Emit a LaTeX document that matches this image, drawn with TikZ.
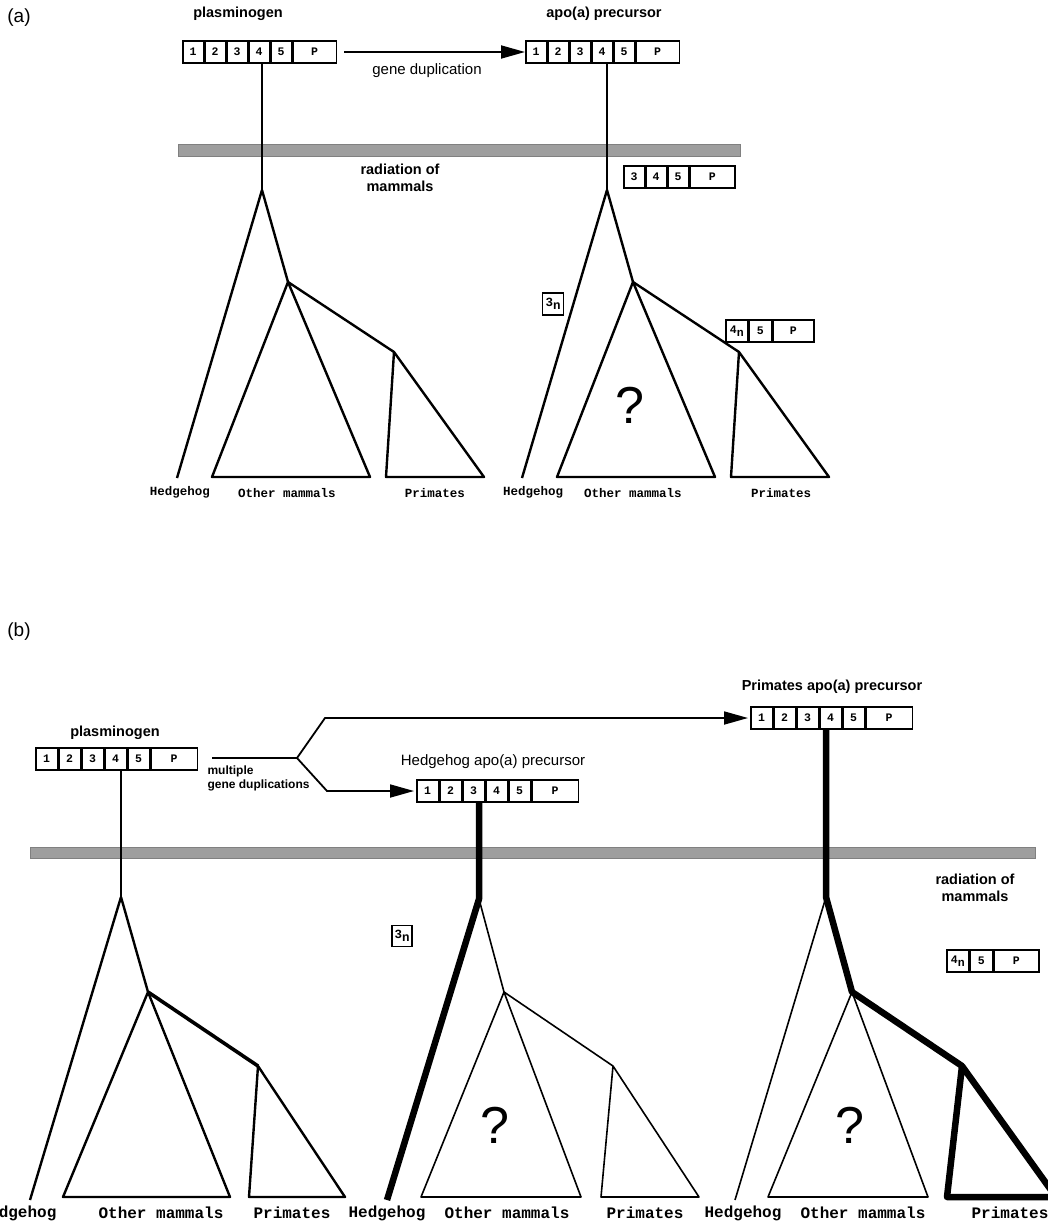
\documentclass[tikz,border=0pt]{standalone}
\usepackage{fontspec}
\setmainfont{Liberation Sans}
\newfontfamily\monof{Liberation Mono}
\usetikzlibrary{arrows.meta}
\newcommand\genebox[4]{%
\node[cell,minimum width=#3] (#1-1) at (#2) {1};
\node[cell,minimum width=#3] (#1-2) at (#1-1.east) {2};
\node[cell,minimum width=#3] (#1-3) at (#1-2.east) {3};
\node[cell,minimum width=#3] (#1-4) at (#1-3.east) {4};
\node[cell,minimum width=#3] (#1-5) at (#1-4.east) {5};
\node[cell,minimum width=#4] (#1-P) at (#1-5.east) {P};}
\newcommand\subn{\raisebox{-3pt}{n}}
\tikzset{
 cell/.style={draw, line width=1.5pt, anchor=west, minimum height=22pt, inner sep=0pt, font=\monof\bfseries\fontsize{11.5}{12}\selectfont},
 lab/.style={font=\bfseries\fontsize{14.5}{17}\selectfont, align=center},
 labr/.style={font=\fontsize{15}{17}\selectfont, align=center},
 sp/.style={font=\monof\bfseries\fontsize{12.5}{12.5}\selectfont},
 spb/.style={font=\monof\bfseries\fontsize{16}{16}\selectfont},
 br/.style={line width=2.4pt, line join=round},
 vl/.style={line width=2.2pt},
 thn/.style={line width=1.6pt, line join=round},
 thk/.style={line width=6.5pt, line join=round},
 arr/.style={line width=1.8pt, -{Triangle[length=24pt,width=13pt]}},
 bar/.style={fill=black!38, draw=black!50, line width=0.6pt},
 qm/.style={font=\fontsize{52}{52}\selectfont},
 panel/.style={font=\fontsize{19}{19}\selectfont},
}
\begin{document}
\begin{tikzpicture}[x=1pt,y=-1pt]
\useasboundingbox[fill=white] (0,0) rectangle (1048,1221);
% ================= panel (a)
\node[panel] (pa) at (19,18) {(a)};
\node[lab] (plabA) at (238,14) {plasminogen};
\node[lab] (alabA) at (604,14) {apo(a) precursor};
\genebox{PA}{182,52}{20.5pt}{43.5pt}
\genebox{AA}{525,52}{20.5pt}{43.5pt}
\draw[arr] ([xshift=7pt]PA-P.east) -- (AA-1.west);
\node[labr] (gdup) at (427,71) {gene duplication};
\node[bar, minimum width=562pt, minimum height=12pt, inner sep=0, anchor=north west] (barA) at (178,144) {};
\node[lab] (radA) at (400,178) {radiation of\\mammals};
% box 3 4 5 P
\node[cell,minimum width=20.5pt] (R-3) at (623,177) {3};
\node[cell,minimum width=20.5pt] (R-4) at (R-3.east) {4};
\node[cell,minimum width=20.5pt] (R-5) at (R-4.east) {5};
\node[cell,minimum width=45pt] (R-P) at (R-5.east) {P};
% tree a1
\coordinate (a1t) at (262,190);
\coordinate (a1h) at (177,478);
\coordinate (a1n) at (288,282);
\coordinate (a1ol) at (212,477);
\coordinate (a1or) at (370,477);
\coordinate (a1p) at (394,352);
\coordinate (a1pl) at (386,477);
\coordinate (a1pr) at (484,477);
\draw[vl] (a1t |- PA-4.south) -- (a1t);
\draw[br] (a1h) -- (a1t) -- (a1n) -- (a1p);
\draw[br] (a1ol) -- (a1n) -- (a1or) -- cycle;
\draw[br] (a1pl) -- (a1p) -- (a1pr) -- cycle;
% tree a2
\coordinate (a2t) at (607,190);
\coordinate (a2h) at (522,478);
\coordinate (a2n) at (633,282);
\coordinate (a2ol) at (557,477);
\coordinate (a2or) at (715,477);
\coordinate (a2p) at (739,352);
\coordinate (a2pl) at (731,477);
\coordinate (a2pr) at (829,477);
\draw[vl] (a2t |- AA-4.south) -- (a2t);
\draw[br] (a2h) -- (a2t) -- (a2n) -- (a2p);
\draw[br] (a2ol) -- (a2n) -- (a2or) -- cycle;
\draw[br] (a2pl) -- (a2p) -- (a2pr) -- cycle;
\node[draw, line width=1.5pt, minimum width=21pt, minimum height=22pt, inner sep=0pt, sp] (a3n) at (553,304) {3\subn};
\node[cell,minimum width=22pt] (F-4) at (725,331) {4\subn};
\node[cell,minimum width=22pt] (F-5) at (F-4.east) {5};
\node[cell,minimum width=41pt] (F-P) at (F-5.east) {P};
\node[qm] (qa) at (630,405) {?};
% labels a
\node[sp] (la1) at (180,492) {Hedgehog};
\node[sp] (la2) at (287,493) {Other mammals};
\node[sp] (la3) at (435,493) {Primates};
\node[sp] (la4) at (533,492) {Hedgehog};
\node[sp] (la5) at (633,493) {Other mammals};
\node[sp] (la6) at (781,493) {Primates};
% ================= panel (b)
\node[panel] (pb) at (19,632) {(b)};
\node[lab] (plabB) at (115,733) {plasminogen};
\node[lab] (prlab) at (832,687) {Primates apo(a) precursor};
\node[labr] (hhlab) at (493,762) {Hedgehog apo(a) precursor};
\genebox{PB}{35,759}{21.5pt}{46.5pt}
\genebox{HB}{416,791}{21.5pt}{46.5pt}
\genebox{QB}{750,718}{21.5pt}{46.5pt}
\coordinate (fk) at (297,758);
\coordinate (up) at (325,718);
\coordinate (dn) at (327,791);
\draw[line width=1.8pt] ([xshift=14pt]PB-P.east |- fk) -- (fk);
\draw[arr] (fk) -- (up) -- ([xshift=-2pt]QB-1.west);
\draw[arr] (fk) -- (dn) -- ([xshift=-2pt]HB-1.west);
\node[font=\bfseries\fontsize{12}{14}\selectfont, align=left, anchor=north west] (mgd) at (204,762) {multiple\\gene duplications};
\node[bar, minimum width=1005pt, minimum height=11pt, inner sep=0, anchor=north west] (barB) at (30,847) {};
\node[lab] (radB) at (975,888) {radiation of\\mammals};
% tree b1
\coordinate (b1t) at (121,897);
\coordinate (b1h) at (30,1200);
\coordinate (b1n) at (148,992);
\coordinate (b1ol) at (63,1197);
\coordinate (b1or) at (230,1197);
\coordinate (b1p) at (258,1066);
\coordinate (b1pl) at (249,1197);
\coordinate (b1pr) at (345,1197);
\draw[vl] (b1t |- PB-4.south) -- (b1t);
\draw[br] (b1h) -- (b1t) -- (b1n);
\draw[line width=3.6pt] (b1n) -- (b1p);
\draw[br] (b1ol) -- (b1n) -- (b1or) -- cycle;
\draw[br] (b1pl) -- (b1p) -- (b1pr) -- cycle;
% tree b2
\coordinate (b2t) at (479,899);
\coordinate (b2h) at (387,1200);
\coordinate (b2n) at (504,992);
\coordinate (b2ol) at (421,1197);
\coordinate (b2or) at (581,1197);
\coordinate (b2p) at (613,1066);
\coordinate (b2pl) at (601,1197);
\coordinate (b2pr) at (699,1197);
\draw[thk] (b2t |- HB-4.south) -- (b2t) -- (b2h);
\draw[thn] (b2t) -- (b2n) -- (b2p);
\draw[thn] (b2ol) -- (b2n) -- (b2or) -- cycle;
\draw[thn] (b2pl) -- (b2p) -- (b2pr) -- cycle;
\node[draw, line width=1.5pt, minimum width=20pt, minimum height=21pt, inner sep=0pt, sp] (b3n) at (402,936) {3\subn};
\node[qm] (qb1) at (495,1125) {?};
% tree b3
\coordinate (b3t) at (826,897);
\coordinate (b3h) at (735,1200);
\coordinate (b3n) at (852,992);
\coordinate (b3ol) at (768,1197);
\coordinate (b3or) at (928,1197);
\coordinate (b3p) at (962,1066);
\coordinate (b3pl) at (947,1197);
\coordinate (b3pr) at (1056,1197);
\draw[thk] (b3t |- QB-4.south) -- (b3t) -- (b3n) -- (b3p);
\draw[thn] (b3t) -- (b3h);
\draw[thn] (b3ol) -- (b3n) -- (b3or) -- cycle;
\draw[thk] (b3pl) -- (b3p) -- (b3pr) -- cycle;
\node[cell,minimum width=22pt] (G-4) at (946,961) {4\subn};
\node[cell,minimum width=22pt] (G-5) at (G-4.east) {5};
\node[cell,minimum width=45pt] (G-P) at (G-5.east) {P};
\node[qm] (qb2) at (850,1125) {?};
% labels b
\node[spb] (lb1) at (18,1213) {Hedgehog};
\node[spb] (lb2) at (161,1213) {Other mammals};
\node[spb] (lb3) at (292,1213) {Primates};
\node[spb] (lb4) at (387,1213) {Hedgehog};
\node[spb] (lb5) at (507,1213) {Other mammals};
\node[spb] (lb6) at (645,1213) {Primates};
\node[spb] (lb7) at (743,1213) {Hedgehog};
\node[spb] (lb8) at (863,1213) {Other mammals};
\node[spb] (lb9) at (1010,1213) {Primates};
\end{tikzpicture}
\end{document}
